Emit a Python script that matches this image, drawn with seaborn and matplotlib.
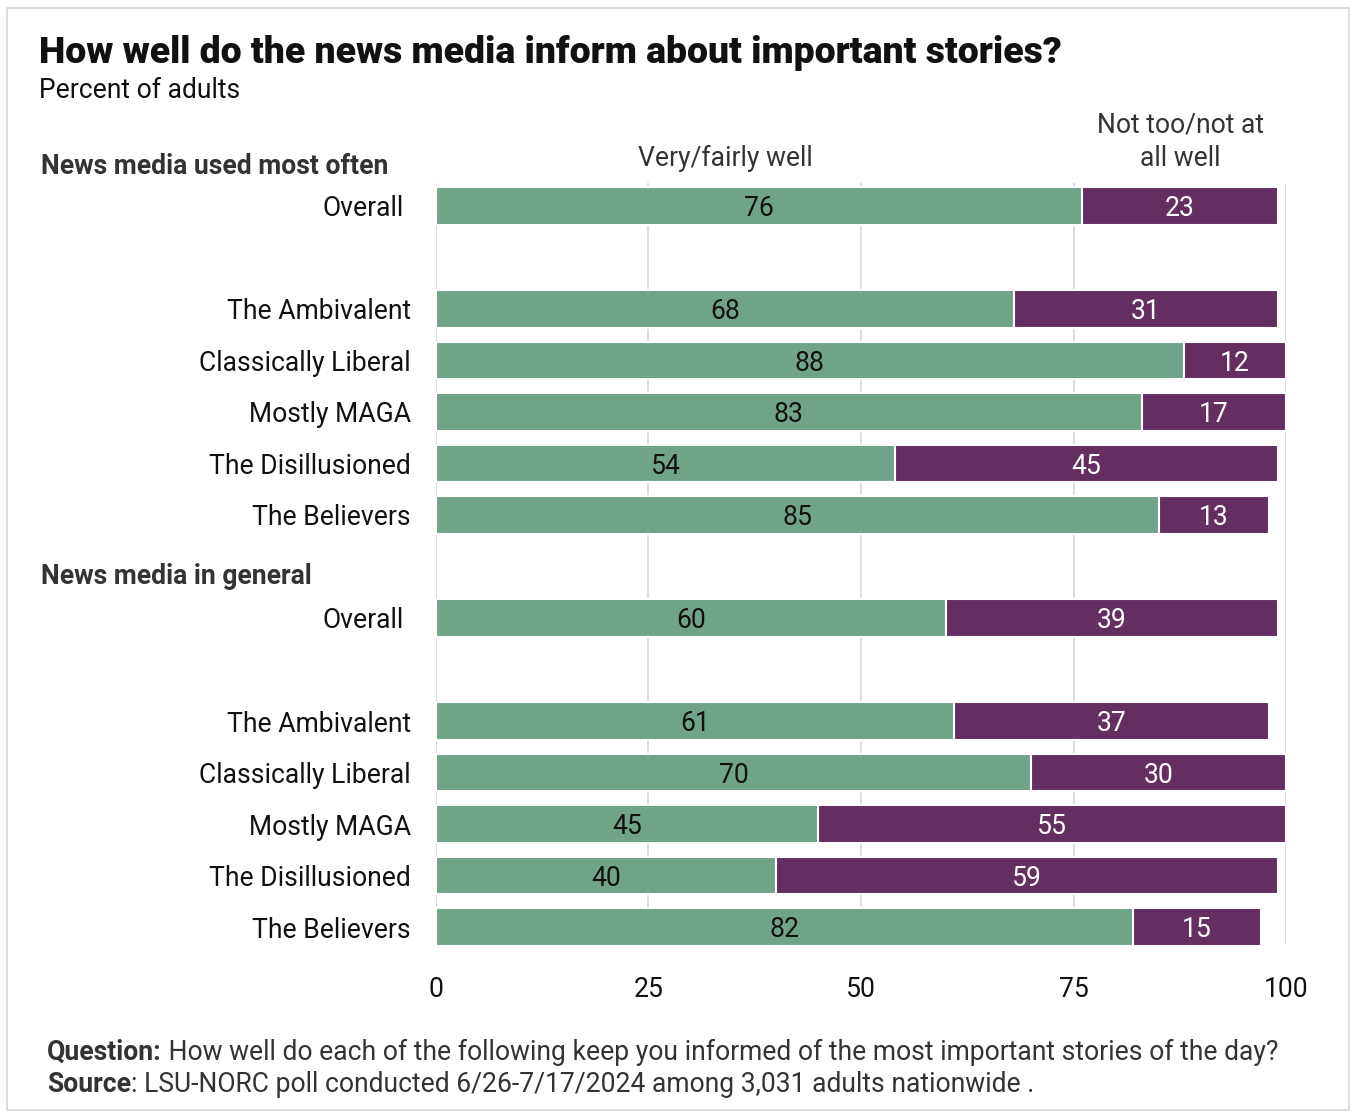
import matplotlib
matplotlib.use("Agg")
import matplotlib.pyplot as plt
import seaborn as sns
import pandas as pd
from matplotlib.patches import Rectangle

sns.set_theme(style="white")
plt.rcParams['font.family'] = ['Roboto', 'DejaVu Sans']

# data
groups = ["News media used most often"] * 6 + ["News media in general"] * 6
segments = ["Overall", "The Ambivalent", "Classically Liberal", "Mostly MAGA",
            "The Disillusioned", "The Believers"] * 2
very_well = [76, 68, 88, 83, 54, 85, 60, 61, 70, 45, 40, 82]
not_well = [23, 31, 12, 17, 45, 13, 39, 37, 30, 55, 59, 15]
row_pos = [0, 2, 3, 4, 5, 6, 8, 10, 11, 12, 13, 14]
x_ticks = [0, 25, 50, 75, 100]

green = "#70A489"
purple = "#652E62"
FS = 19.1

df = pd.DataFrame({"group": groups, "segment": segments, "very": very_well,
                   "notwell": not_well, "pos": row_pos})
df["total"] = df["very"] + df["notwell"]

fig = plt.figure(figsize=(13.51, 11.18), dpi=100)
ax = fig.add_axes([0.3227, 0.1547, 0.6292, 0.6818])

for x in x_ticks:
    ax.axvline(x, color="#d9d9d9", lw=1.3, zorder=0)

sns.barplot(data=df, x="total", y="pos", orient="h", native_scale=True,
            color=purple, saturation=1, width=0.72, edgecolor="white",
            linewidth=1.5, ax=ax, zorder=2)
sns.barplot(data=df, x="very", y="pos", orient="h", native_scale=True,
            color=green, saturation=1, width=0.72, edgecolor="white",
            linewidth=1.5, ax=ax, zorder=3)

for _, r in df.iterrows():
    ax.text(r["very"] / 2, r["pos"] + 0.05, str(r["very"]), ha="center", va="center",
            fontsize=FS, color="#111111", zorder=4)
    ax.text(r["very"] + r["notwell"] / 2, r["pos"] + 0.05, str(r["notwell"]),
            ha="center", va="center", fontsize=FS, color="white", zorder=4)

ax.set_xlim(0, 100)
ax.set_ylim(14.35, -0.45)
ax.set_xticks(x_ticks)
ax.set_xticklabels([str(t) for t in x_ticks], fontsize=FS, color="#111111")
ax.tick_params(axis="x", length=0, pad=22)
ax.set_yticks(row_pos)
ax.set_yticklabels(segments, fontsize=FS, color="#111111")
ax.tick_params(axis="y", length=0, pad=18)
for lab, p in zip(ax.get_yticklabels(), row_pos):
    if p in (0, 8):
        lab.set_x(-0.008)
ax.set_xlabel("")
ax.set_ylabel("")
for s in ax.spines.values():
    s.set_visible(False)

# column headers
ax.text(34, -0.92, "Very/fairly well", ha="center", va="center", fontsize=FS, color="#333333")
ax.text(87.6, -1.24, "Not too/not at\nall well", ha="center", va="center",
        fontsize=FS, color="#333333", linespacing=1.3)

# group headers
fig.text(41 / 1351, 1 - 167 / 1118, "News media used most often", fontsize=FS,
         fontweight="bold", color="#333333", va="center")
fig.text(41 / 1351, 1 - 577 / 1118, "News media in general", fontsize=FS,
         fontweight="bold", color="#333333", va="center")

# title
fig.text(39 / 1351, 1 - 53 / 1118, "How well do the news media inform about important stories?",
         fontsize=26.9, fontweight="black", color="#111111", va="center")
fig.text(39 / 1351, 1 - 91 / 1118, "Percent of adults", fontsize=FS, color="#111111",
         va="center")

# footer: bold lead-in followed by normal text
renderer = fig.canvas.get_renderer()
inv = fig.transFigure.inverted()
for yy, lead, rest in [(1052, "Question:", " How well do each of the following keep you informed of the most important stories of the day?"),
                       (1084, "Source", ": LSU-NORC poll conducted 6/26-7/17/2024 among 3,031 adults nationwide .")]:
    t = fig.text(47 / 1351, 1 - yy / 1118, lead, fontsize=FS, fontweight="bold",
                 color="#333333", va="center")
    bb = t.get_window_extent(renderer)
    x1 = inv.transform((bb.x1, bb.y0))[0]
    fig.text(x1, 1 - yy / 1118, rest, fontsize=FS, color="#333333", va="center")

fig.patches.append(Rectangle((7 / 1351, 8 / 1118), 1342 / 1351, 1102 / 1118,
                             transform=fig.transFigure, fill=False,
                             edgecolor="#d9d9d9", lw=1.3))

fig.savefig("out.png", dpi=100)
